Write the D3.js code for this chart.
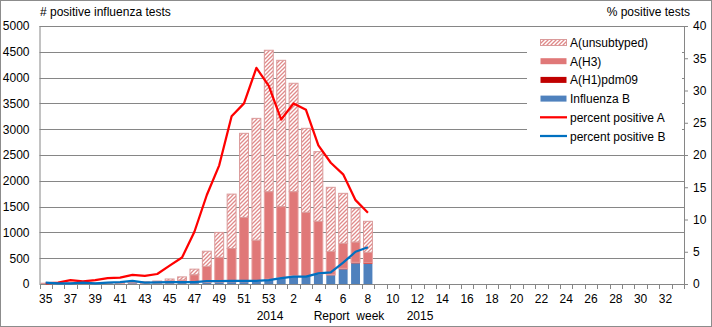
<!DOCTYPE html>
<html><head><meta charset="utf-8">
<script src="https://cdn.jsdelivr.net/npm/d3@7"></script>
<style>
html,body{margin:0;padding:0;background:#fff;}
svg{display:block;font-family:"Liberation Sans",Arial,sans-serif;}
</style></head>
<body><svg id="c" width="712" height="327"></svg>
<script>
// ---- data ----
const weeks = ["35","36","37","38","39","40","41","42","43","44","45","46","47","48","49","50","51","52","53",
  "1","2","3","4","5","6","7","8","9","10","11","12","13","14","15","16","17","18","19","20","21","22","23",
  "24","25","26","27","28","29","30","31","32","33"];
const fluB      = [5,5,5,8,5,10,10,20,10,15,20,25,25,30,35,40,40,45,90,120,155,140,190,170,285,400,390];
const h1pdm09   = [0,0,0,0,0,0,0,0,0,0,0,0,0,2,2,2,3,3,3,5,5,5,8,8,18,20,18];
const h3        = [5,7,7,7,7,10,10,8,20,25,44,52,155,311,480,646,1247,802,1697,1375,1630,1245,1017,455,485,394,206];
const unsub     = [5,8,8,10,8,10,10,7,15,18,33,61,108,292,483,1054,1630,2360,2740,2835,2100,1627,1350,1241,969,653,601];
const pctA      = [0.1,0.2,0.6,0.4,0.6,0.9,1.0,1.4,1.25,1.55,2.85,4.1,8.1,13.8,18.4,26.0,28.0,33.5,30.7,25.5,28.0,27.0,21.5,18.8,17.0,13.0,11.05];
const pctB      = [0.2,0.1,0.1,0.2,0.1,0.2,0.3,0.5,0.2,0.25,0.3,0.3,0.3,0.45,0.45,0.5,0.5,0.5,0.6,0.9,1.15,1.15,1.65,1.8,3.3,5.0,5.7];
const leftTicks  = [0,500,1000,1500,2000,2500,3000,3500,4000,4500,5000];
const rightTicks = [0,5,10,15,20,25,30,35,40];
const seriesKeys = ["B","H1","H3","U"];
const seriesNames = {U:"A(unsubtyped)",H3:"A(H3)",H1:"A(H1)pdm09",B:"Influenza B"};

// ---- layout ----
const svg = d3.select("#c");
const L = 39.5, R = 684, T = 26, B = 284;
const x = d3.scaleBand().domain(weeks).range([L, R]).paddingInner(0.2).paddingOuter(0.1);
const xb = d3.scaleBand().domain(weeks).range([L, R]);
const y = d3.scaleLinear().domain([0,5000]).range([B, T]);
const y2 = d3.scaleLinear().domain([0,40]).range([B, T]);

const colors = {B:"#4F81BD", H1:"#C00000", H3:"#E07878"};

const defs = svg.append("defs");
const pat = defs.append("pattern").attr("id","hatch").attr("patternUnits","userSpaceOnUse")
  .attr("width",4).attr("height",4);
pat.append("rect").attr("width",4).attr("height",4).attr("fill","#fff");
pat.append("path").attr("d","M-1,1 l2,-2 M0,4 l4,-4 M3,5 l2,-2")
  .attr("stroke","#E08A8A").attr("stroke-width",1.3);

// outer border
svg.append("rect").attr("x",0.5).attr("y",0.5).attr("width",711).attr("height",326)
  .attr("fill","none").attr("stroke","#8c8c8c");

// gridlines
svg.append("g").selectAll("line").data(leftTicks.filter(d=>d>0)).join("line")
  .attr("x1",L).attr("x2",R).attr("y1",d=>Math.round(y(d))+0.5).attr("y2",d=>Math.round(y(d))+0.5)
  .attr("stroke","#868686").attr("stroke-width",1);

// stacked bars
const rows = fluB.map((v,i)=>({week:weeks[i],B:v,H1:h1pdm09[i],H3:h3[i],U:unsub[i]}));
const stack = d3.stack().keys(seriesKeys)(rows);
const bw = x.bandwidth();
svg.append("g").selectAll("g").data(stack).join("g")
  .each(function(s){
    d3.select(this).selectAll("rect").data(s).join("rect")
      .attr("x",d=>x(d.data.week)+0.5)
      .attr("width",bw-1)
      .attr("y",d=>y(d[1]))
      .attr("height",d=>Math.max(0,y(d[0])-y(d[1])))
      .attr("fill",s.key==="U"?"url(#hatch)":colors[s.key])
      .attr("stroke",s.key==="U"?"#DA9A9A":(s.key==="H3"?"#E8A0A0":"none"))
      .attr("stroke-width",s.key==="U"||s.key==="H3"?1:0);
  });

// axes
const yAxis = d3.axisLeft(y).tickValues(leftTicks).tickFormat(d3.format("d")).tickSize(0).tickPadding(10);
const gy = svg.append("g").attr("transform",`translate(${L},0)`).call(yAxis);
const y2Axis = d3.axisRight(y2).tickValues(rightTicks).tickFormat(d3.format("d")).tickSize(4).tickPadding(5);
const gy2 = svg.append("g").attr("transform",`translate(${R},0)`).call(y2Axis);
const xAxis = d3.axisBottom(xb).tickSize(0).tickPadding(10)
  .tickFormat((d,i)=> i%2===0 ? d : "");
const gx = svg.append("g").attr("transform",`translate(0,${B})`).call(xAxis);
// x ticks at category boundaries
svg.append("g").selectAll("line").data(weeks.concat(["end"])).join("line")
  .attr("x1",(d,i)=>Math.round(L+i*xb.bandwidth())+0.5).attr("x2",(d,i)=>Math.round(L+i*xb.bandwidth())+0.5)
  .attr("y1",B).attr("y2",B+5).attr("stroke","#868686");

[gy,gy2,gx].forEach(g=>{
  g.selectAll(".domain").attr("stroke","#868686");
  g.selectAll(".tick line").attr("stroke","#868686");
  g.selectAll("text").attr("font-size",12).attr("fill","#000")
    .attr("font-family","'Liberation Sans',Arial,sans-serif");
});
gy.select(".domain").attr("d",`M0.5,${B}V${T}`);
gx.select(".domain").attr("d",`M${L},0.5H${R}`);

// lines
const lineA = d3.line().x((d,i)=>xb(weeks[i])+xb.bandwidth()/2).y(d=>y2(d));
svg.append("path").datum(pctA).attr("d",lineA).attr("fill","none")
  .attr("stroke","#FF0000").attr("stroke-width",2.25).attr("stroke-linejoin","round");
svg.append("path").datum(pctB).attr("d",lineA).attr("fill","none")
  .attr("stroke","#0070C0").attr("stroke-width",2.25).attr("stroke-linejoin","round");

// legend
const lg = svg.append("g");
lg.append("rect").attr("x",527).attr("y",28).attr("width",155).attr("height",118).attr("fill","#fff");
const legendItems = [
  {k:"U",type:"bar"},{k:"H3",type:"bar"},{k:"H1",type:"bar"},{k:"B",type:"bar"},
  {k:"pA",type:"line",name:"percent positive A",c:"#FF0000"},
  {k:"pB",type:"line",name:"percent positive B",c:"#0070C0"}];
legendItems.forEach((it,i)=>{
  const cy = 42.5 + i*18.7;
  if(it.type==="bar"){
    lg.append("rect").attr("x",540.5).attr("y",cy-3).attr("width",26).attr("height",6)
      .attr("fill",it.k==="U"?"url(#hatch)":colors[it.k])
      .attr("stroke",it.k==="U"?"#DA9A9A":"none");
  } else {
    lg.append("line").attr("x1",540).attr("x2",567).attr("y1",cy).attr("y2",cy)
      .attr("stroke",it.c).attr("stroke-width",2.25);
  }
  lg.append("text").attr("x",570).attr("y",cy+4.5).attr("font-size",12).attr("fill","#000")
    .text(it.type==="bar"?seriesNames[it.k]:it.name);
});

// titles
svg.append("text").attr("x",40).attr("y",16).attr("font-size",12).attr("fill","#000")
  .text("# positive influenza tests");
svg.append("text").attr("x",690).attr("y",16).attr("font-size",12).attr("fill","#000")
  .attr("text-anchor","end").text("% positive tests");
svg.append("text").attr("x",270).attr("y",320).attr("font-size",12).attr("text-anchor","middle").text("2014");
svg.append("text").attr("x",349).attr("y",320).attr("font-size",12).attr("text-anchor","middle")
  .style("white-space","pre").text("Report  week");
svg.append("text").attr("x",420).attr("y",320).attr("font-size",12).attr("text-anchor","middle").text("2015");
</script></body></html>
